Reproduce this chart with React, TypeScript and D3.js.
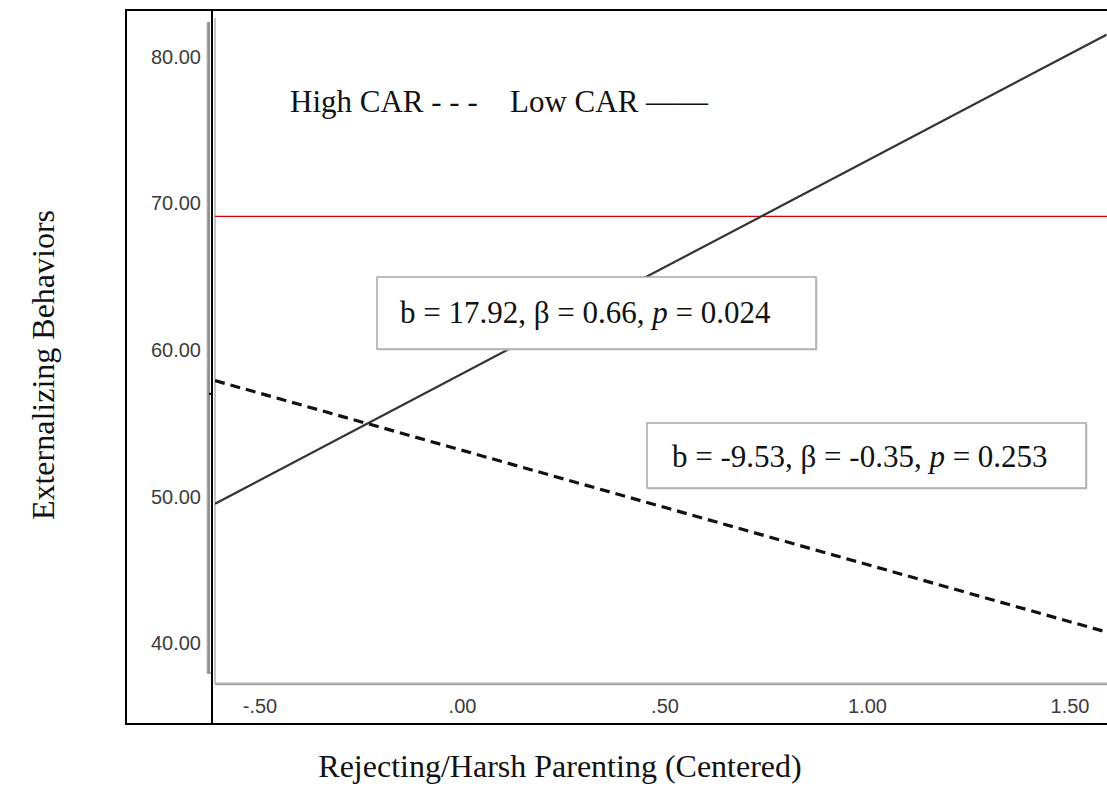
import * as d3 from 'd3';

const xTicks = [-0.5, 0, 0.5, 1, 1.5];
const xTickLabels = ['-.50', '.00', '.50', '1.00', '1.50'];
const yTicks = [40, 50, 60, 70, 80];
const yTickLabels = ['40.00', '50.00', '60.00', '70.00', '80.00'];

const xEnds = [-0.611, 1.59];
const lowCAR = [49.5, 81.5];
const highCAR = [57.9, 40.75];
const cutoff = 69.1;

const lowNote = ['b = 17.92, β = 0.66, ', 'p', ' = 0.024'];
const highNote = ['b = -9.53, β = -0.35, ', 'p', ' = 0.253'];

const W = 1107;
const H = 787;
const serif = '"Liberation Serif", "Times New Roman", serif';
const sans = '"Liberation Sans", Arial, sans-serif';

export default function App() {
  const x = d3.scaleLinear().domain([-0.5, 1.5]).range([260, 1070]);
  const y = d3.scaleLinear().domain([40, 80]).range([643, 56.7]);

  const plotLeft = 215;
  const plotBottom = 684;

  const line = d3
    .line<number>()
    .x((_, i) => x(xEnds[i]))
    .y((d) => y(d));

  const note = (parts: string[], bx: number, by: number, bw: number, bh: number, tx: number, ty: number) => (
    <g>
      <rect x={bx + 1.5} y={by + 1.5} width={bw} height={bh} fill="#d8d8d8" />
      <rect x={bx} y={by} width={bw} height={bh} fill="#fff" stroke="#a8a8a8" strokeWidth={1.5} />
      <text x={tx} y={ty} fontFamily={serif} fontSize={31} fill="#111">
        {parts[0]}
        <tspan fontStyle="italic">{parts[1]}</tspan>
        {parts[2]}
      </text>
    </g>
  );

  return (
    <svg
      width={W}
      height={H}
      style={{ position: 'absolute', left: 0, top: 0, background: '#fff' }}
    >
      <defs>
        <clipPath id="plot">
          <rect x={plotLeft} y={10} width={W - plotLeft} height={plotBottom - 10} />
        </clipPath>
      </defs>

      {/* outer frame */}
      <rect x={126} y={10} width={W + 20} height={714} fill="none" stroke="#000" strokeWidth={2} />

      {/* plot frame, grey */}
      <line x1={plotLeft} y1={18} x2={plotLeft} y2={plotBottom} stroke="#b0b0b0" strokeWidth={1.5} />
      <line x1={plotLeft} y1={plotBottom} x2={W} y2={plotBottom} stroke="#a0a0a0" strokeWidth={2.5} />
      <line x1={plotLeft} y1={plotBottom - 1} x2={W} y2={plotBottom - 1} stroke="#c8c8c8" strokeWidth={1} />

      {/* y axis bar */}
      <line x1={208.5} y1={22} x2={208.5} y2={673} stroke="#909090" strokeWidth={3} />
      <line x1={207} y1={22} x2={207} y2={673} stroke="#c0c0c0" strokeWidth={1} />
      <line x1={207} y1={673} x2={212} y2={673} stroke="#909090" strokeWidth={1.5} />
      <line x1={212} y1={10} x2={212} y2={724} stroke="#000" strokeWidth={2} />
      <line x1={209} y1={y(57)} x2={212} y2={y(57)} stroke="#000" strokeWidth={2} />

      {yTicks.map((t, i) => (
        <text
          key={t}
          x={201}
          y={y(t)}
          dy="0.36em"
          textAnchor="end"
          fontFamily={sans}
          fontSize={20}
          fill="#3c3c3c"
        >
          {yTickLabels[i]}
        </text>
      ))}

      {xTicks.map((t, i) => (
        <text
          key={t}
          x={x(t)}
          y={713}
          textAnchor="middle"
          fontFamily={sans}
          fontSize={20}
          fill="#3c3c3c"
        >
          {xTickLabels[i]}
        </text>
      ))}

      <g clipPath="url(#plot)">
        <line x1={plotLeft} x2={W} y1={y(cutoff)} y2={y(cutoff)} stroke="#e00000" strokeWidth={1.3} />
        <path d={line(lowCAR) ?? ''} fill="none" stroke="#333" strokeWidth={2.2} />
        <path
          d={line(highCAR) ?? ''}
          fill="none"
          stroke="#111"
          strokeWidth={3.2}
          strokeDasharray="10 6"
        />
      </g>

      {/* legend */}
      <text x={290} y={112} fontFamily={serif} fontSize={31} fill="#111">
        High CAR - - -
      </text>
      <text x={510} y={112} fontFamily={serif} fontSize={31} fill="#111">
        Low CAR ——
      </text>

      {note(lowNote, 377, 277, 439, 72, 400, 323)}
      {note(highNote, 647, 423, 439, 65, 672, 467)}

      <text
        transform="translate(54,365) rotate(-90)"
        textAnchor="middle"
        fontFamily={serif}
        fontSize={32}
        fill="#111"
      >
        Externalizing Behaviors
      </text>
      <text x={560} y={777} textAnchor="middle" fontFamily={serif} fontSize={32} fill="#111">
        Rejecting/Harsh Parenting (Centered)
      </text>
    </svg>
  );
}
